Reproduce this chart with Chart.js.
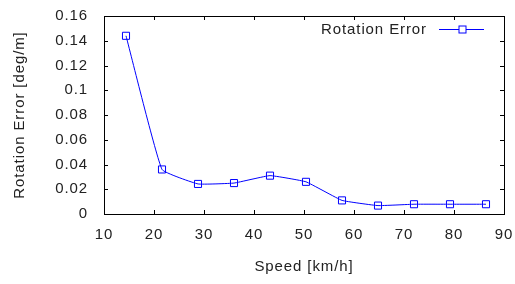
<!DOCTYPE html>
<html>
<head>
<meta charset="utf-8">
<script src="https://cdn.jsdelivr.net/npm/chart.js@4"></script>
<style>
  body { margin: 0; background: #fff; }
  #wrap { width: 515px; height: 284px; }
</style>
</head>
<body>
<div id="wrap"><canvas id="chart"></canvas></div>
<script>
// Podaci
let speeds = [14.4, 21.6, 28.8, 36, 43.2, 50.4, 57.6, 64.8, 72, 79.2, 86.4];
let rotErr = [0.144, 0.036, 0.0243, 0.025, 0.031, 0.026, 0.011, 0.0068, 0.0079, 0.0079, 0.0079];
let xTicks = [10, 20, 30, 40, 50, 60, 70, 80, 90];
let yTicks = [0, 0.02, 0.04, 0.06, 0.08, 0.1, 0.12, 0.14, 0.16];
let seriesName = "Rotation Error";

let txt = "#222";
let fontSt = { family: "'Liberation Sans', Arial, sans-serif", size: 15 };

// razmak izmedju slova kao na originalu
let spacingPlugin = {
    id: "spacing",
    beforeUpdate(chart) { chart.ctx.letterSpacing = "0.9px"; },
    beforeDraw(chart) { chart.ctx.letterSpacing = "0.9px"; }
};

// unutrasnje crtice + legenda u gornjem desnom uglu
let framePlugin = {
    id: "frame",
    afterDraw(chart) {
        let c = chart.ctx;
        let a = chart.chartArea;
        let xs = chart.scales.x, ys = chart.scales.y;
        c.save();
        c.strokeStyle = "#000";
        c.lineWidth = 1;
        c.beginPath();
        xTicks.forEach(function (v) {
            let px = Math.round(xs.getPixelForValue(v)) + 0.5;
            c.moveTo(px, a.bottom); c.lineTo(px, a.bottom - 4);
            c.moveTo(px, a.top); c.lineTo(px, a.top + 4);
        });
        yTicks.forEach(function (v) {
            let py = Math.round(ys.getPixelForValue(v)) + 0.5;
            c.moveTo(a.left, py); c.lineTo(a.left + 4, py);
            c.moveTo(a.right, py); c.lineTo(a.right - 4, py);
        });
        c.stroke();
        c.strokeRect(Math.round(a.left) + 0.5, Math.round(a.top) + 0.5,
            Math.round(a.right - a.left), Math.round(a.bottom - a.top));

        // legenda
        let ly = a.top + 13.5;
        let lx1 = a.right - 65, lx2 = a.right - 20;
        c.font = "15px " + fontSt.family;
        c.fillStyle = txt;
        c.textAlign = "right";
        c.textBaseline = "middle";
        c.fillText(seriesName, lx1 - 12, ly);
        c.strokeStyle = "#0000ff";
        c.beginPath();
        c.moveTo(lx1, ly); c.lineTo(lx2, ly);
        c.stroke();
        let mx = Math.round((lx1 + lx2) / 2) + 0.5;
        c.fillStyle = "#fff";
        c.fillRect(mx - 3.5, ly - 3.5, 7, 7);
        c.strokeRect(mx - 3.5, ly - 3.5, 7, 7);
        c.restore();
    }
};

let ctx = document.getElementById("chart").getContext("2d");

let chart = new Chart(ctx, {
    type: "line",
    data: {
        datasets: [{
            label: seriesName,
            data: speeds.map(function (s, i) { return { x: s, y: rotErr[i] }; }),
            borderColor: "#0000ff",
            backgroundColor: "#ffffff",
            borderWidth: 1,
            pointStyle: "rect",
            pointRadius: 5,
            pointBorderWidth: 1,
            pointBorderColor: "#0000ff",
            pointBackgroundColor: "rgba(0,0,0,0)",
            tension: 0.1,
            fill: false
        }]
    },
    options: {
        responsive: true,
        maintainAspectRatio: false,
        animation: false,
        layout: { padding: { left: 0, right: 11, top: 16, bottom: 0 } },
        plugins: {
            legend: { display: false },
            tooltip: { enabled: false }
        },
        scales: {
            x: {
                type: "linear",
                min: 10,
                max: 90,
                afterFit: function (s) { s.height = 70; s.paddingRight = 0; s.paddingLeft = 0; },
                afterBuildTicks: function (s) { s.ticks = xTicks.map(function (v) { return { value: v }; }); },
                grid: { display: false, drawTicks: false },
                border: { display: false },
                ticks: { color: txt, font: fontSt, padding: 12, maxRotation: 0 },
                title: { display: true, text: "Speed [km/h]", color: txt, font: fontSt, padding: { top: 0, bottom: 8 } }
            },
            y: {
                min: 0,
                max: 0.16,
                afterFit: function (s) { s.width = 104; s.paddingTop = 0; s.paddingBottom = 0; },
                afterBuildTicks: function (s) { s.ticks = yTicks.map(function (v) { return { value: v }; }); },
                grid: { display: false, drawTicks: false },
                border: { display: false },
                ticks: {
                    color: txt, font: fontSt, padding: 16,
                    callback: function (v) { return String(parseFloat(v.toFixed(2))); }
                },
                title: { display: true, text: "Rotation Error [deg/m]", color: txt, font: fontSt, padding: { top: 11, bottom: 0 } }
            }
        }
    },
    plugins: [spacingPlugin, framePlugin]
});
</script>
</body>
</html>
